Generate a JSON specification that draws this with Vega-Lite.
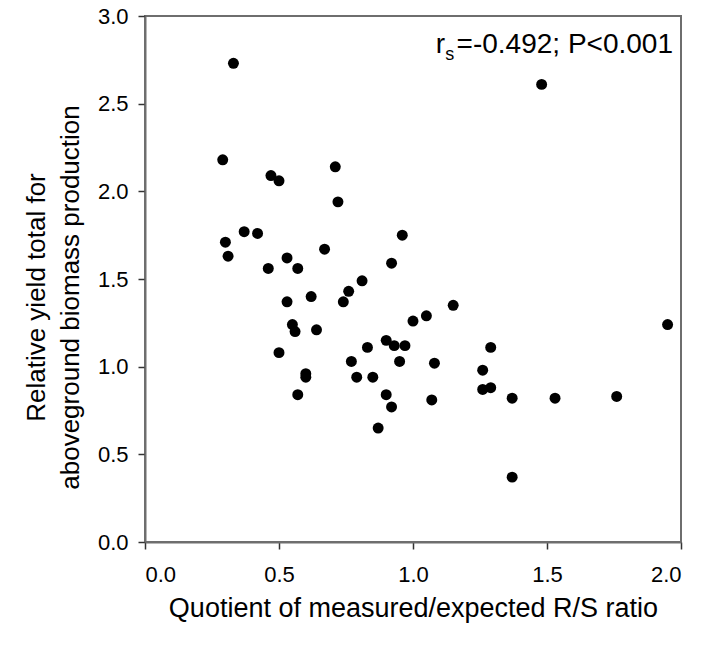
{
  "$schema": "https://vega.github.io/schema/vega-lite/v6.json",
  "width": 536,
  "height": 526,
  "autosize": {"type": "none"},
  "padding": {"left": 145, "top": 16, "right": 21, "bottom": 105},
  "background": "white",
  "config": {
    "font": "Liberation Sans",
    "view": {"stroke": "#6e6e6e", "strokeWidth": 2},
    "axis": {
      "grid": false,
      "domainColor": "#6e6e6e",
      "domainWidth": 2,
      "tickColor": "#333333",
      "tickWidth": 1.5,
      "tickSize": 7,
      "labelFont": "Liberation Sans",
      "labelFontSize": 22,
      "labelColor": "black",
      "titleFont": "Liberation Sans",
      "titleFontSize": 26,
      "titleFontWeight": "normal",
      "titleColor": "black"
    }
  },
  "data": {
    "values": [
      {"ratio": 0.33, "ryt": 2.73},
      {"ratio": 1.48, "ryt": 2.61},
      {"ratio": 0.29, "ryt": 2.18},
      {"ratio": 0.47, "ryt": 2.09},
      {"ratio": 0.50, "ryt": 2.06},
      {"ratio": 0.71, "ryt": 2.14},
      {"ratio": 0.72, "ryt": 1.94},
      {"ratio": 0.37, "ryt": 1.77},
      {"ratio": 0.42, "ryt": 1.76},
      {"ratio": 0.30, "ryt": 1.71},
      {"ratio": 0.31, "ryt": 1.63},
      {"ratio": 0.96, "ryt": 1.75},
      {"ratio": 0.67, "ryt": 1.67},
      {"ratio": 0.53, "ryt": 1.62},
      {"ratio": 0.46, "ryt": 1.56},
      {"ratio": 0.57, "ryt": 1.56},
      {"ratio": 0.92, "ryt": 1.59},
      {"ratio": 0.81, "ryt": 1.49},
      {"ratio": 0.76, "ryt": 1.43},
      {"ratio": 0.74, "ryt": 1.37},
      {"ratio": 0.62, "ryt": 1.40},
      {"ratio": 0.53, "ryt": 1.37},
      {"ratio": 1.15, "ryt": 1.35},
      {"ratio": 1.05, "ryt": 1.29},
      {"ratio": 1.00, "ryt": 1.26},
      {"ratio": 1.95, "ryt": 1.24},
      {"ratio": 0.55, "ryt": 1.24},
      {"ratio": 0.56, "ryt": 1.20},
      {"ratio": 0.64, "ryt": 1.21},
      {"ratio": 0.50, "ryt": 1.08},
      {"ratio": 0.90, "ryt": 1.15},
      {"ratio": 0.93, "ryt": 1.12},
      {"ratio": 0.97, "ryt": 1.12},
      {"ratio": 0.83, "ryt": 1.11},
      {"ratio": 1.29, "ryt": 1.11},
      {"ratio": 0.77, "ryt": 1.03},
      {"ratio": 0.95, "ryt": 1.03},
      {"ratio": 1.08, "ryt": 1.02},
      {"ratio": 1.26, "ryt": 0.98},
      {"ratio": 0.60, "ryt": 0.96},
      {"ratio": 0.60, "ryt": 0.94},
      {"ratio": 0.79, "ryt": 0.94},
      {"ratio": 0.85, "ryt": 0.94},
      {"ratio": 0.57, "ryt": 0.84},
      {"ratio": 0.90, "ryt": 0.84},
      {"ratio": 0.92, "ryt": 0.77},
      {"ratio": 0.87, "ryt": 0.65},
      {"ratio": 1.07, "ryt": 0.81},
      {"ratio": 1.26, "ryt": 0.87},
      {"ratio": 1.29, "ryt": 0.88},
      {"ratio": 1.37, "ryt": 0.82},
      {"ratio": 1.53, "ryt": 0.82},
      {"ratio": 1.76, "ryt": 0.83},
      {"ratio": 1.37, "ryt": 0.37}
    ]
  },
  "layer": [
    {
      "mark": {"type": "circle", "size": 120, "color": "black", "opacity": 1},
      "encoding": {
        "x": {
          "field": "ratio",
          "type": "quantitative",
          "scale": {"domain": [0, 2]},
          "axis": {
            "title": "Quotient of measured/expected R/S ratio",
            "titleFontSize": 27,
            "values": [0, 0.5, 1, 1.5, 2],
            "format": ".1f",
            "labelPadding": 15,
            "titlePadding": 10
          }
        },
        "y": {
          "field": "ryt",
          "type": "quantitative",
          "scale": {"domain": [0, 3]},
          "axis": {
            "title": ["Relative yield total for", "aboveground biomass production"],
            "titleLineHeight": 34,
            "titleY": 281,
            "values": [0, 0.5, 1, 1.5, 2, 2.5, 3],
            "format": ".1f",
            "labelPadding": 10,
            "titlePadding": 14
          }
        }
      }
    },
    {
      "data": {"values": [{"x": 1.085, "y": 2.79, "t": "r"}]},
      "mark": {"type": "text", "align": "left", "baseline": "alphabetic", "fontSize": 28, "color": "black"},
      "encoding": {
        "x": {"field": "x", "type": "quantitative"},
        "y": {"field": "y", "type": "quantitative"},
        "text": {"field": "t"}
      }
    },
    {
      "data": {"values": [{"x": 1.12, "y": 2.79, "t": "s"}]},
      "mark": {"type": "text", "align": "left", "baseline": "alphabetic", "fontSize": 18, "dy": 7, "color": "black"},
      "encoding": {
        "x": {"field": "x", "type": "quantitative"},
        "y": {"field": "y", "type": "quantitative"},
        "text": {"field": "t"}
      }
    },
    {
      "data": {"values": [{"x": 2.0, "y": 2.79, "t": "=-0.492; P<0.001"}]},
      "mark": {"type": "text", "align": "right", "baseline": "alphabetic", "fontSize": 28, "dx": -8, "color": "black"},
      "encoding": {
        "x": {"field": "x", "type": "quantitative"},
        "y": {"field": "y", "type": "quantitative"},
        "text": {"field": "t"}
      }
    }
  ]
}
